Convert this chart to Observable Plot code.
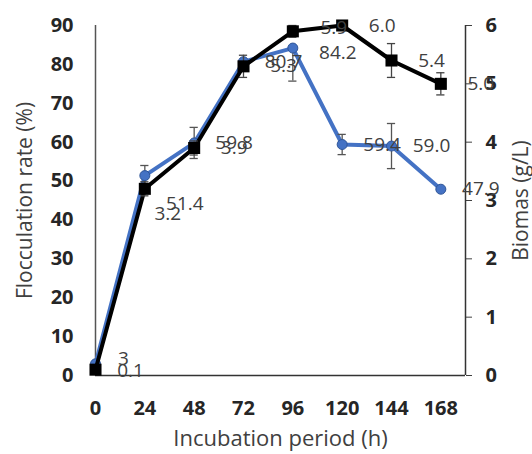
<!DOCTYPE html>
<html><head><meta charset="utf-8">
<script src="https://cdn.jsdelivr.net/npm/d3@7"></script>
<script src="https://cdn.jsdelivr.net/npm/@observablehq/plot@0.6"></script>
<style>body{margin:0;background:#fff}</style>
</head><body><div id="chart"></div>
<script>
const hours = [0, 24, 48, 72, 96, 120, 144, 168];
const flocculation = [3, 51.4, 59.8, 80.7, 84.2, 59.4, 59.0, 47.9];
const flocculationErrPlus = [0, 2.6, 4, 0, 0, 2.6, 5.8, 0];
const flocculationErrMinus = [0, 2.6, 4, 0, 8.5, 2.6, 5.8, 0];
const flocculationLabels = ["3", "51.4", "59.8", "80.7", "84.2", "59.4", "59.0", "47.9"];
const biomass = [0.1, 3.2, 3.9, 5.3, 5.9, 6.0, 5.4, 5.0];
const biomassErr = [0, 0.12, 0.12, 0.19, 0.1, 0.08, 0.29, 0.19];
const biomassLabels = ["0.1", "3.2", "3.9", "5.3", "5.9", "6.0", "5.4", "5.0"];
const flocTicks = [0, 10, 20, 30, 40, 50, 60, 70, 80, 90];
const biomassTicks = [0, 1, 2, 3, 4, 5, 6];

const k = 90 / 6; // right axis (0–6) mapped onto left axis (0–90)
const blue = "#4472C4";

const floc = hours.map((h, i) => ({h, v: flocculation[i], lo: flocculationErrMinus[i], hi: flocculationErrPlus[i], label: flocculationLabels[i], s: "f"}));
const bio = hours.map((h, i) => ({h, v: biomass[i] * k, lo: biomassErr[i] * k, hi: biomassErr[i] * k, label: biomassLabels[i], s: "b"}));

// label placement (pixel offsets)
const offsets = {f0: [28, -5], f24: [40, 28], f96: [45, 5], b0: [35, 1], b24: [23, 25], b96: [41, -3]};
const labelMarks = [...floc, ...bio].map(d => {
  const [dx, dy] = offsets[d.s + d.h] || [40, 0];
  return Plot.text([d], {x: "h", y: "v", text: "label", dx, dy, fill: "#404040", fontSize: 19});
});

function errorMarks(data, color) {
  const e = data.filter(d => d.lo > 0 || d.hi > 0);
  return [
    Plot.ruleX(e, {x: "h", y1: d => d.v - d.lo, y2: d => d.v + d.hi, stroke: color, strokeWidth: 1.3}),
    Plot.ruleY(e.filter(d => d.lo > 0), {y: d => d.v - d.lo, x1: d => d.h - 2, x2: d => d.h + 2, stroke: color, strokeWidth: 1.3}),
    Plot.ruleY(e.filter(d => d.hi > 0), {y: d => d.v + d.hi, x1: d => d.h - 2, x2: d => d.h + 2, stroke: color, strokeWidth: 1.3})
  ];
}

const chart = Plot.plot({
  width: 532,
  height: 454,
  marginLeft: 95,
  marginRight: 67,
  marginTop: 25,
  marginBottom: 79,
  style: {fontFamily: "'Open Sans', sans-serif", background: "#fff"},
  x: {domain: [0, 180]},
  y: {domain: [0, 90]},
  marks: [
    Plot.axisY({ticks: flocTicks, tickSize: 0, tickPadding: 22, fontWeight: "bold", fontSize: 20, fill: "#262626", label: null}),
    Plot.axisY({anchor: "right", ticks: biomassTicks.map(t => t * k), tickFormat: t => String(t / k), tickSize: 6, tickPadding: 14, fontWeight: "bold", fontSize: 20, fill: "#262626", stroke: "#404040", label: null}),
    Plot.axisX({ticks: hours, tickSize: 0, tickPadding: 25, fontWeight: "bold", fontSize: 20, fill: "#262626", label: null}),
    Plot.ruleX([0], {stroke: "#555", strokeWidth: 1.5}),
    Plot.ruleX([180], {stroke: "#333", strokeWidth: 1.5}),
    Plot.ruleY([0], {stroke: "#333", strokeWidth: 1.5}),
    Plot.line(floc, {x: "h", y: "v", stroke: blue, strokeWidth: 4}),
    ...errorMarks(floc, "#555"),
    Plot.dot(floc, {x: "h", y: "v", r: 5, fill: blue, stroke: "#2F5597", strokeWidth: 1}),
    Plot.line(bio, {x: "h", y: "v", stroke: "#000", strokeWidth: 4}),
    ...errorMarks(bio, "#444"),
    Plot.dot(bio, {x: "h", y: "v", symbol: "square", r: 6.8, fill: "#000"}),
    ...labelMarks,
    Plot.text(["Incubation period (h)"], {frameAnchor: "bottom", textAnchor: "middle", dy: 70, fontSize: 22, fill: "#404040"}),
    Plot.text(["Flocculation rate (%)"], {frameAnchor: "left", textAnchor: "middle", dx: -70, rotate: -90, fontSize: 21, fill: "#404040"}),
    Plot.text(["Biomas (g/L)"], {frameAnchor: "right", textAnchor: "middle", dx: 56, rotate: -90, fontSize: 21, fill: "#404040"})
  ]
});
document.getElementById("chart").append(chart);
</script>
</body></html>
